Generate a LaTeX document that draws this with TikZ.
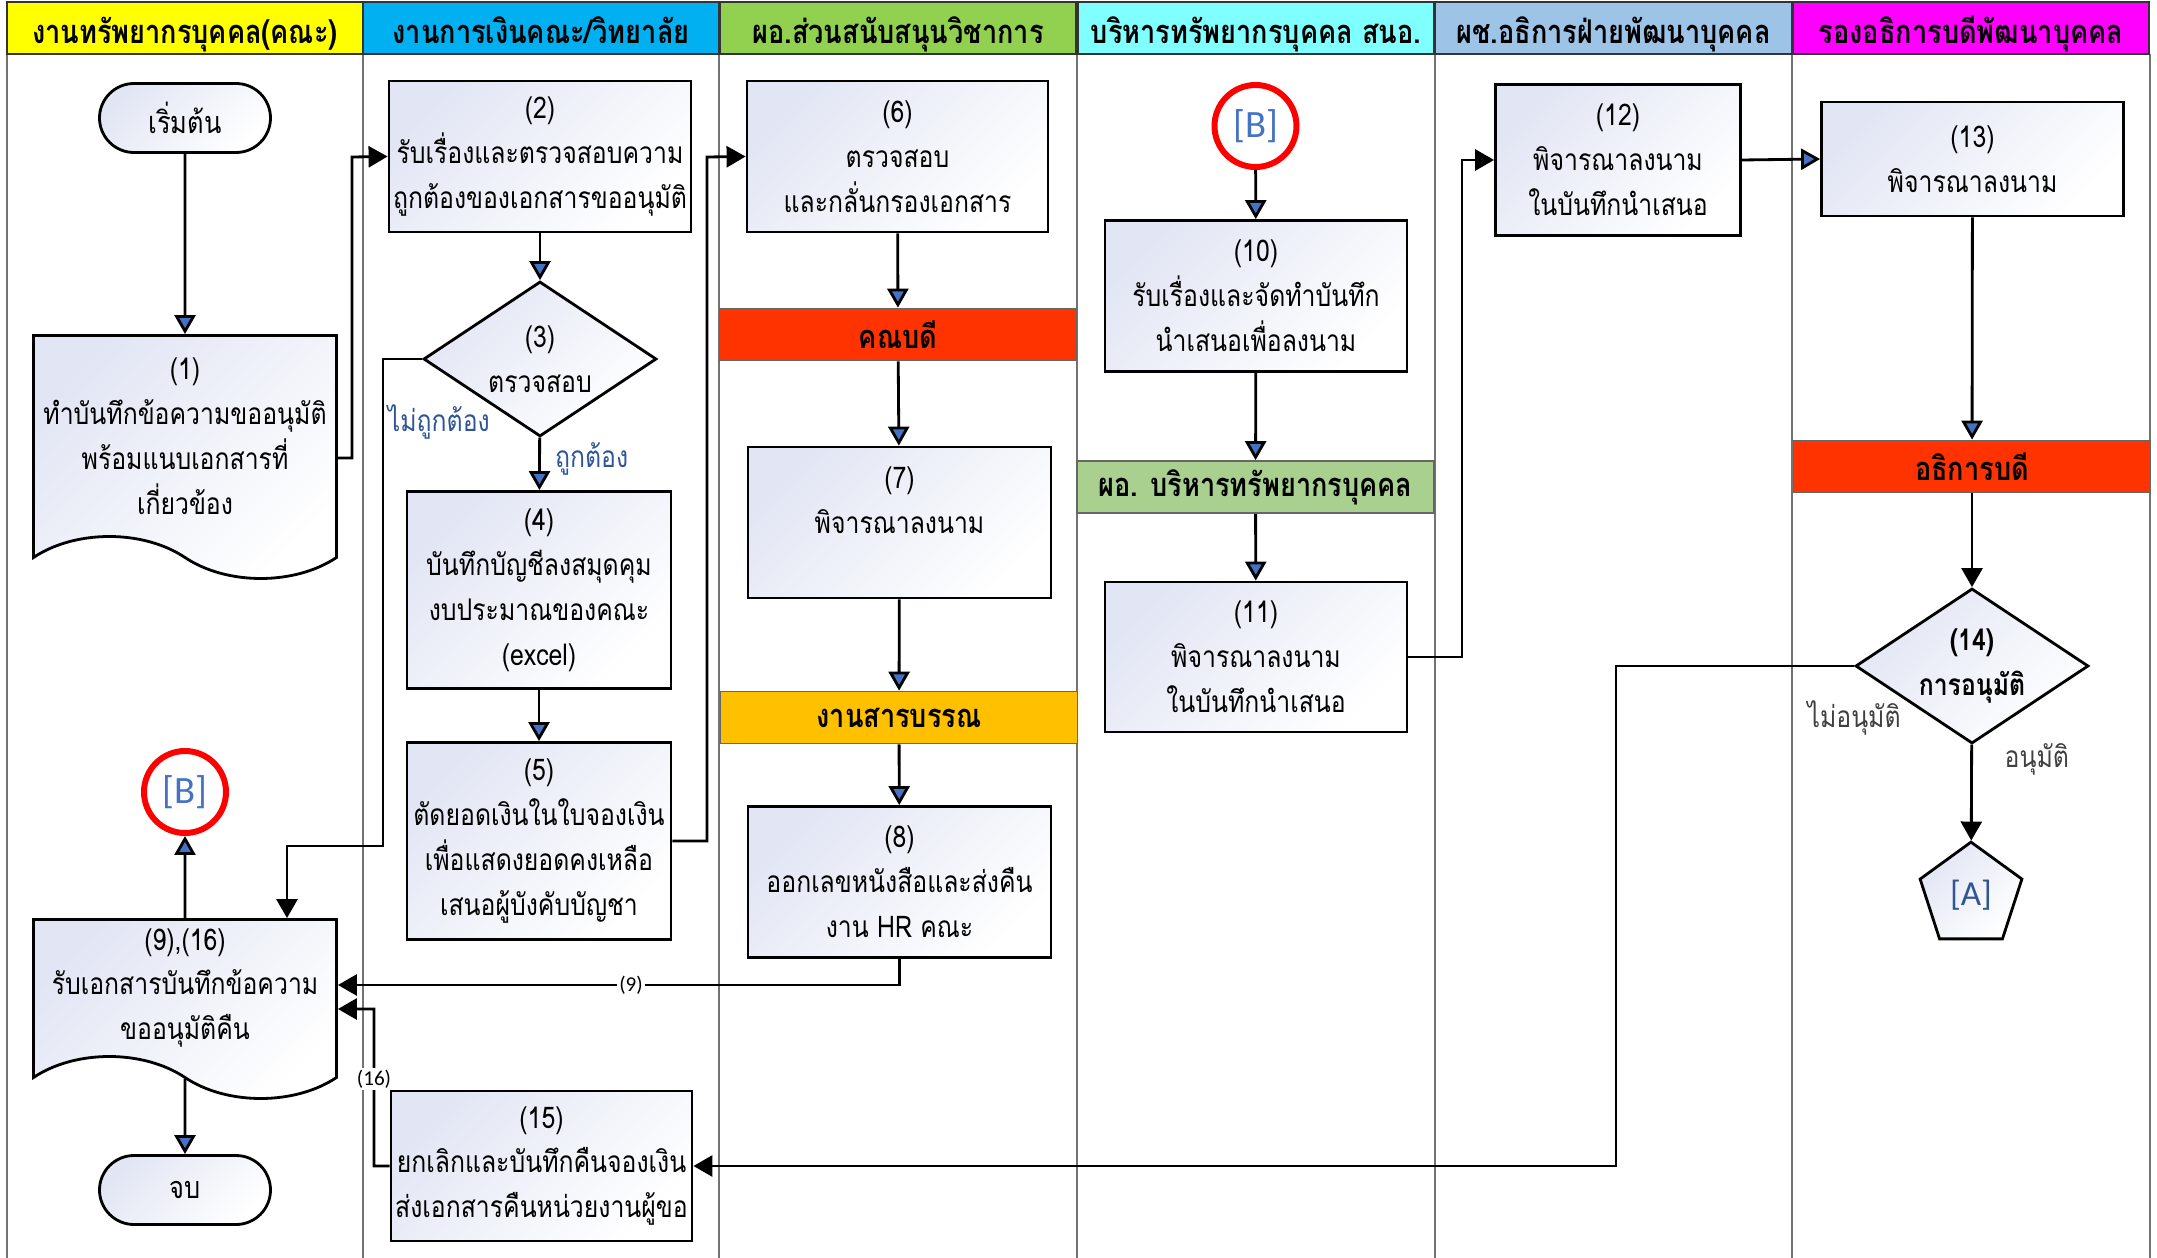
\documentclass[tikz,border=0pt]{standalone}
\usepackage{fontspec}
\newfontfamily\thfont[Script=Thai,FakeStretch=0.83]{Loma}
\newfontfamily\lfont{Carlito}
\usetikzlibrary{arrows.meta,shapes.geometric,shapes.misc,shapes.symbols}
\definecolor{hyellow}{RGB}{255,255,0}
\definecolor{hblue}{RGB}{0,176,240}
\definecolor{hgreen}{RGB}{146,208,80}
\definecolor{hcyan}{RGB}{128,255,255}
\definecolor{hsteel}{RGB}{157,195,230}
\definecolor{hmagenta}{RGB}{255,0,255}
\definecolor{barred}{RGB}{255,51,0}
\definecolor{bargold}{RGB}{255,192,0}
\definecolor{bargreen}{RGB}{169,208,142}
\definecolor{arrblue}{RGB}{68,114,196}
\definecolor{lblblue}{RGB}{47,85,151}
\definecolor{lav}{RGB}{226,230,244}
\begin{document}
\begin{tikzpicture}
    [
    x=0.1mm,y=-0.1mm,
    lanehead/.style={rectangle,draw=black!80,line width=0.5pt,minimum width=35.6mm,minimum height=5.2mm,inner sep=0pt,text height=3.6mm,text depth=0.5mm,font=\thfont\fontsize{9.3}{11}\selectfont\bfseries},
    laneline/.style={draw=black!55,line width=0.5pt},
    box/.style={rectangle,draw,line width=0.8pt,top color=lav,bottom color=white,shading angle=45,align=center,inner sep=0pt,execute at begin node={\rule{0pt}{4.3mm}},font=\thfont\fontsize{8.5}{12.8}\selectfont},
    doc/.style={tape,tape bend top=none,tape bend bottom=out and in,tape bend height=4.2mm,draw,line width=0.8pt,top color=lav,bottom color=white,shading angle=45,align=center,inner sep=0pt,minimum width=30.3mm,font=\thfont\fontsize{8.5}{12.8}\selectfont},
    term/.style={rounded rectangle,draw,line width=0.8pt,top color=lav,bottom color=white,shading angle=45,minimum width=17.1mm,minimum height=6.9mm,inner sep=0pt,font=\thfont\fontsize{8.7}{11}\selectfont},
    decision/.style={diamond,draw,line width=0.8pt,top color=lav,bottom color=white,shading angle=45,aspect=1.5,minimum width=23.3mm,minimum height=15.5mm,inner sep=0pt,align=center,font=\thfont\fontsize{8.5}{12.8}\selectfont},
    bar/.style={rectangle,draw=black!60,line width=0.5pt,minimum width=35.7mm,minimum height=5.2mm,inner sep=0pt,font=\thfont\fontsize{9.3}{11}\selectfont\bfseries},
    conn/.style={circle,draw=red,line width=1.7pt,fill=white,minimum size=8.2mm,inner sep=0pt,text=arrblue,font=\lfont\fontsize{11}{13}\selectfont},
    offpage/.style={regular polygon,regular polygon sides=5,draw,line width=0.8pt,top color=lav,bottom color=white,shading angle=45,minimum size=10.7mm,inner sep=0pt,text=lblblue,font=\lfont\fontsize{10}{12}\selectfont},
    yesno/.style={inner sep=1pt,text=lblblue,font=\thfont\fontsize{8.5}{10}\selectfont},
    grayno/.style={inner sep=1pt,text=black!75,font=\thfont\fontsize{8.5}{10}\selectfont},
    tag/.style={fill=white,inner sep=0.6pt,font=\lfont\fontsize{6}{7}\selectfont},
    flow/.style={line width=0.8pt,-{Triangle[length=1.9mm,width=2.1mm,fill=arrblue]}},
    jump/.style={line width=0.8pt,-{Triangle[length=1.9mm,width=2.1mm]}}
    ]
    \useasboundingbox (0,0) rectangle (2157,1258);
    \draw[laneline] (7,54) -- (7,1258);
    \draw[laneline] (363,54) -- (363,1258);
    \draw[laneline] (719,54) -- (719,1258);
    \draw[laneline] (1077,54) -- (1077,1258);
    \draw[laneline] (1435,54) -- (1435,1258);
    \draw[laneline] (1792,54) -- (1792,1258);
    \draw[laneline] (2150,54) -- (2150,1258);
    \node (h1) at (185,28) [lanehead,fill=hyellow] {งานทรัพยากรบุคคล(คณะ)};
    \node (h2) at (541,28) [lanehead,fill=hblue] {งานการเงินคณะ/วิทยาลัย};
    \node (h3) at (898,28) [lanehead,fill=hgreen] {ผอ.ส่วนสนับสนุนวิชาการ};
    \node (h4) at (1256,28) [lanehead,fill=hcyan] {บริหารทรัพยากรบุคคล สนอ.};
    \node (h5) at (1613.5,28) [lanehead,fill=hsteel] {ผช.อธิการฝ่ายพัฒนาบุคคล};
    \node (h6) at (1971,28) [lanehead,fill=hmagenta] {รองอธิการบดีพัฒนาบุคคล};

    \node (start) at (185,118) [term] {เริ่มต้น};
    \node (n1) at (185,436) [doc,minimum height=24.3mm] {(1)\\ทำบันทึกข้อความขออนุมัติ\\พร้อมแนบเอกสารที่\\เกี่ยวข้อง};
    \node (nB1) at (185,792) [conn] {[B]};
    \node (n9) at (185,988) [doc,minimum height=17.9mm] {(9),(16)\\รับเอกสารบันทึกข้อความ\\ขออนุมัติคืน};
    \node (stop) at (185,1190) [term] {จบ};

    \node (n2) at (540,156.5) [box,minimum width=30.2mm,minimum height=15.1mm] {(2)\\รับเรื่องและตรวจสอบความ\\ถูกต้องของเอกสารขออนุมัติ};
    \node (n3) at (540,359) [decision] {(3)\\ตรวจสอบ};
    \node (n4) at (539,590) [box,minimum width=26.4mm,minimum height=19.7mm] {(4)\\บันทึกบัญชีลงสมุดคุม\\งบประมาณของคณะ\\(excel)};
    \node (n5) at (539,841) [box,minimum width=26.4mm,minimum height=19.7mm] {(5)\\ตัดยอดเงินในใบจองเงิน\\เพื่อแสดงยอดคงเหลือ\\เสนอผู้บังคับบัญชา};
    \node (n15) at (541.5,1166) [box,minimum width=30.1mm,minimum height=15mm] {(15)\\ยกเลิกและบันทึกคืนจองเงิน\\ส่งเอกสารคืนหน่วยงานผู้ขอ};

    \node (n6) at (897.5,156.5) [box,minimum width=30.1mm,minimum height=15.1mm] {(6)\\ตรวจสอบ\\และกลั่นกรองเอกสาร};
    \node (dean) at (898,334.5) [bar,fill=barred] {คณบดี};
    \node (n7) at (899.5,522.5) [box,minimum width=30.3mm,minimum height=15.1mm] {(7)\\พิจารณาลงนาม\\~};
    \node (saraban) at (899,717.5) [bar,fill=bargold] {งานสารบรรณ};
    \node (n8) at (899.5,882) [box,minimum width=30.3mm,minimum height=15.1mm] {(8)\\ออกเลขหนังสือและส่งคืน\\งาน HR คณะ};

    \node (nB2) at (1255.5,126) [conn] {[B]};
    \node (n10) at (1256,296) [box,minimum width=30.2mm,minimum height=15.1mm] {(10)\\รับเรื่องและจัดทำบันทึก\\นำเสนอเพื่อลงนาม};
    \node (director) at (1255.5,487) [bar,fill=bargreen] {ผอ. บริหารทรัพยากรบุคคล};
    \node (n11) at (1256,657) [box,minimum width=30.2mm,minimum height=15mm] {(11)\\พิจารณาลงนาม\\ในบันทึกนำเสนอ};

    \node (n12) at (1618,160) [box,minimum width=24.5mm,minimum height=15.1mm] {(12)\\พิจารณาลงนาม\\ในบันทึกนำเสนอ};

    \node (n13) at (1972.5,159) [box,minimum width=30.2mm,minimum height=11.4mm] {(13)\\พิจารณาลงนาม};
    \node (pres) at (1972,466.5) [bar,fill=barred] {อธิการบดี};
    \node (n14) at (1972,666) [decision,font=\thfont\fontsize{8.5}{12.8}\selectfont\bfseries] {(14)\\การอนุมัติ};
    \node (nA) at (1971,895.6) [offpage] {[A]};

    \coordinate (b3) at (383,846);
    \coordinate (b3b) at (287,846);
    \draw [flow] (start) to (n1);
    \draw [jump] ([yshift=-2.2mm]n1.east) -| (352,157) -- (n2.west);
    \draw [flow] (n2) to (n3);
    \draw [flow] (n3) -- node (ok3) [pos=0.5,right=3pt,yshift=0.5mm,yesno] {ถูกต้อง} (n4);
    \draw [jump] (n3.west) -| node (no3) [pos=0.565,right=0pt,yesno] {ไม่ถูกต้อง} (b3) -- (b3b) -- (b3b |- n9.north);
    \draw [flow] (n4) to (n5);
    \draw [jump] (n5.east) -| (707,157) -- (n6.west);
    \draw [flow] (n6) to (dean);
    \draw [flow] (dean) to (n7);
    \draw [flow] (n7) to (saraban);
    \draw [flow] (saraban) to (n8);
    \draw [jump] (n8.south) |- node (t9) [pos=0.739,tag] {(9)} ([yshift=0.3mm]n9.east);
    \draw [jump] (n15.west) -| node (t16) [pos=0.777,tag] {(16)} (374,1009) -- ([yshift=-2.1mm]n9.east);
    \draw [flow] (n9) to (nB1);
    \draw [flow] (n9) to (stop);
    \draw [flow] (nB2) to (n10);
    \draw [flow] (n10) to (director);
    \draw [flow] (director) to (n11);
    \draw [jump] (n11.east) -| (1462,160) -- (n12.west);
    \draw [flow] (n12.east) to (n13.west);
    \draw [flow] (n13) to (pres);
    \draw [jump] (pres) to (n14);
    \draw [jump] (n14) -- node (ok14) [pos=0.15,right=8pt,grayno] {อนุมัติ} (nA);
    \draw [jump] (n14.west) -| node (no14) [pos=0,yshift=-5.2mm,grayno] {ไม่อนุมัติ} (1616,1166) -- (n15.east);
  \end{tikzpicture}
\end{document}
